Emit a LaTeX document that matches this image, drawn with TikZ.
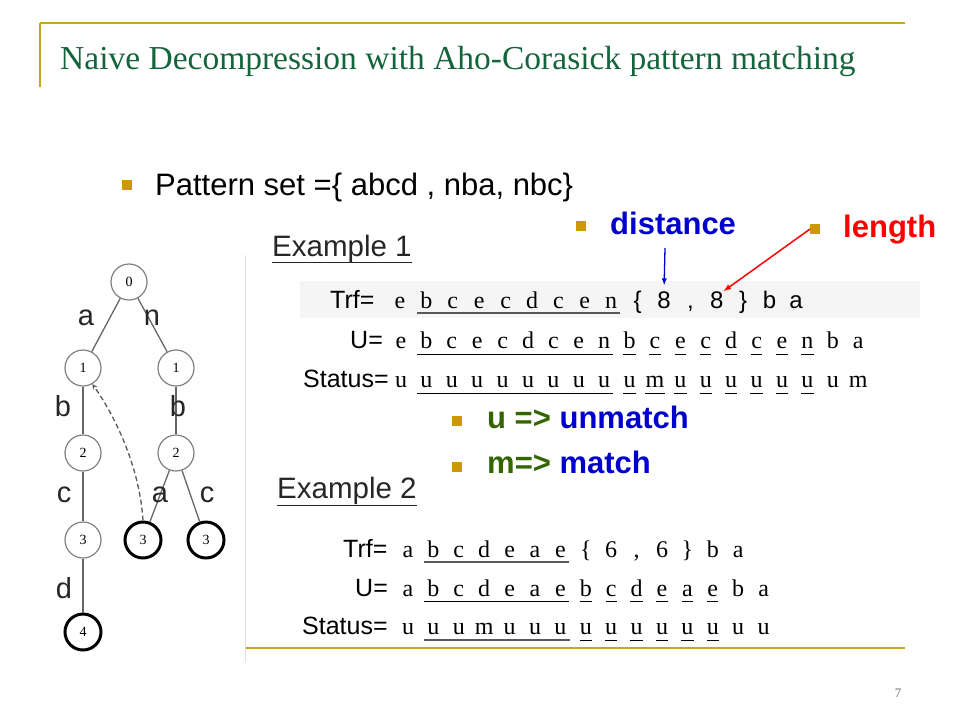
\documentclass[tikz,border=0pt]{standalone}
\usepackage{fontspec}
\setmainfont{Liberation Serif}
\setsansfont{Liberation Sans}
\usetikzlibrary{arrows,calc}

\tikzset{
  bul/.style={fill={rgb, 255:red, 204; green, 153; blue, 0 }, minimum size=9.5pt, inner sep=0pt},
  gold/.style={draw={rgb, 255:red, 201; green, 163; blue, 38 }},
  lt/.style={font=\fontsize{24}{24}\selectfont, inner sep=0pt, anchor=base},
  lts/.style={font=\sffamily\fontsize{24}{24}\selectfont, inner sep=0pt, anchor=base},
  rlab/.style={font=\sffamily\fontsize{25}{25}\selectfont, inner sep=0pt, anchor=base west},
  bigb/.style={font=\sffamily\bfseries\fontsize{31}{31}\selectfont, inner sep=0pt, anchor=base west},
  ul/.style={draw=black, line width=0.8pt},
  ulgray/.style={draw=black!65, line width=1.4pt},
  st/.style={circle, draw=black!50, line width=1.2pt, minimum size=36pt, inner sep=0pt, font=\fontsize{14}{14}\selectfont},
  acc/.style={st, draw=black, line width=3pt},
  edge/.style={draw=black!60, line width=1.3pt},
  elab/.style={font=\sffamily\fontsize{29}{29}\selectfont, text=black!85, inner sep=0pt}
}

\begin{document}
\begin{tikzpicture}[x=1pt,y=1pt,yscale=-1,xscale=1]
\useasboundingbox (0,0) rectangle (960,720);

%Straight Lines [frame]
\draw [gold, line width=1.6pt] (40,23) -- (905,23) ;
\draw [gold, line width=1.6pt] (40,23) -- (40,87) ;
\draw [gold, line width=2.6pt] (245,648) -- (905,648) ;
\draw [black!12] (245,255) -- (245,662) ;
%Shape: Rectangle [band behind Trf row]
\fill [black!4] (300,281) rectangle (920,318) ;

% Text Node
\node [anchor=base west, inner sep=0pt, font=\fontsize{33.5}{33.5}\selectfont, text={rgb, 255:red, 20; green, 100; blue, 60 }] (title) at (60,69) {Naive Decompression with Aho-Corasick pattern matching};
% Text Node
\node [bul] (bp) at (127,185) {};
\node [anchor=base west, inner sep=0pt, font=\sffamily\fontsize{31}{31}\selectfont] (pset) at (155,195) {Pattern set =\{ abcd , nba, nbc\}};
% Text Node
\node [bul] (bd) at (581,226) {};
\node [bigb, text={rgb, 255:red, 0; green, 0; blue, 204 }] (dist) at (610,234) {distance};
\node [bul] (bl) at (815,229) {};
\node [bigb, text={rgb, 255:red, 255; green, 0; blue, 0 }] (len) at (843,237) {length};
% Text Node
\node [bul] (bu) at (457,421) {};
\node [bigb, text={rgb, 255:red, 0; green, 0; blue, 204 }] (umat) at (487,428) {\textcolor[RGB]{51,102,0}{u =>} unmatch};
\node [bul] (bm) at (457,467) {};
\node [bigb, text={rgb, 255:red, 0; green, 0; blue, 204 }] (mmat) at (487,473) {\textcolor[RGB]{51,102,0}{m=>} match};

% Text Node [Example 1]
\node [anchor=base west, inner sep=0pt, font=\sffamily\fontsize{29.5}{29.5}\selectfont, text=black!85] (ex1) at (272,256) {Example 1};
\draw [black!85, line width=1pt] ($(ex1.base west)+(0,6)$) -- ($(ex1.base east)+(0,6)$) ;
\node [rlab] (trf1) at (330,308) {Trf=};
\node [rlab] (u1) at (350,348) {U=};
\node [rlab] (stat1) at (303,387) {Status=};
\foreach \c [count=\i from 0] in {e,b,c,e,c,d,c,e,n}
  \node [lt] (ta\i) at (400+26.4*\i,308) {\c};
\foreach \c [count=\i from 9] in {\{,8,{,},8,\},b,a}
  \node [lts] (ta\i) at (400+26.4*\i,308) {\c};
\foreach \c [count=\i from 0] in {e,b,c,e,c,d,c,e,n,b,c,e,c,d,c,e,n,b,a}
  \node [lt] (ua\i) at (401+25.4*\i,348) {\c};
\foreach \c [count=\i from 0] in {u,u,u,u,u,u,u,u,u,u,m,u,u,u,u,u,u,u,m}
  \node [lt] (sa\i) at (401+25.4*\i,387) {\c};
\draw [ulgray] ($(ta1.base west)+(-3,5)$) -- ($(ta8.base east)+(3,5)$) ;
\draw [ul] ($(ua1.base west)+(-3,6)$) -- ($(ua8.base east)+(3,6)$) ;
\draw [ul] ($(sa1.base west)+(-3,6)$) -- ($(sa8.base east)+(3,6)$) ;
\foreach \i in {9,...,16} {
  \draw [ul] ($(ua\i.base west)+(0,6)$) -- ($(ua\i.base east)+(0,6)$) ;
  \draw [ul] ($(sa\i.base west)+(0,6)$) -- ($(sa\i.base east)+(0,6)$) ;
}

%Straight Lines [arrows to the two 8s]
\coordinate (dtop) at (665,248);
\draw [-latex, line width=1.3pt, color={rgb, 255:red, 0; green, 0; blue, 204 }, shorten >=6pt] (dtop) -- (ta10.north) ;
\draw [-latex, line width=1.5pt, color={rgb, 255:red, 255; green, 0; blue, 0 }] (bl.west) -- (ta12.north east) ;

% Text Node [Example 2]
\node [anchor=base west, inner sep=0pt, font=\sffamily\fontsize{29.5}{29.5}\selectfont, text=black!85] (ex2) at (277,498) {Example 2};
\draw [black!85, line width=1pt] ($(ex2.base west)+(0,7)$) -- ($(ex2.base east)+(0,7)$) ;
\node [rlab] (trf2) at (343,557) {Trf=};
\node [rlab] (u2) at (355,596) {U=};
\node [rlab] (stat2) at (302,634) {Status=};
\foreach \c [count=\i from 0] in {a,b,c,d,e,a,e,\{,6,{,},6,\},b,a}
  \node [lt] (tb\i) at (408+25.4*\i,557) {\c};
\foreach \c [count=\i from 0] in {a,b,c,d,e,a,e,b,c,d,e,a,e,b,a}
  \node [lt] (ub\i) at (408+25.4*\i,596) {\c};
\foreach \c [count=\i from 0] in {u,u,u,m,u,u,u,u,u,u,u,u,u,u,u}
  \node [lt] (sb\i) at (408+25.4*\i,634) {\c};
\draw [ulgray] ($(tb1.base west)+(-3,5)$) -- ($(tb6.base east)+(3,5)$) ;
\draw [ul] ($(ub1.base west)+(-3,5)$) -- ($(ub6.base east)+(3,5)$) ;
\draw [ulgray] ($(sb1.base west)+(-3,6)$) -- ($(sb6.base east)+(3,6)$) ;
\foreach \i in {7,...,12} {
  \draw [ul] ($(ub\i.base west)+(0,5)$) -- ($(ub\i.base east)+(0,5)$) ;
  \draw [ul] ($(sb\i.base west)+(0,6)$) -- ($(sb\i.base east)+(0,6)$) ;
}

%Shape: Circle [trie states]
\node [st] (q0) at (129,282) {0};
\node [st] (qa1) at (83,368) {1};
\node [st] (qn1) at (176,368) {1};
\node [st] (qa2) at (83,453) {2};
\node [st] (qn2) at (176,453) {2};
\node [st] (qa3) at (83,540) {3};
\node [acc] (qnba) at (143,540) {3};
\node [acc] (qnbc) at (206,540) {3};
\node [acc] (qa4) at (83,632) {4};
%Straight Lines [trie edges]
\draw [edge] (q0) -- (qa1) ;
\draw [edge] (q0) -- (qn1) ;
\draw [edge] (qa1) -- (qa2) ;
\draw [edge] (qn1) -- (qn2) ;
\draw [edge] (qa2) -- (qa3) ;
\draw [edge] (qa3) -- (qa4) ;
\draw [edge] (qn2) -- (qnba) ;
\draw [edge] (qn2) -- (qnbc) ;
%Curve Lines [failure link]
\draw [dash pattern={on 5pt off 3pt}, -stealth, black!65, line width=1.3pt] (qnba.north) .. controls +(-3,-50) and +(25,35) .. (qa1.-60) ;
% Text Node [edge labels]
\node [elab] (la) at (86,318) {a};
\node [elab] (ln) at (152,318) {n};
\node [elab] (lb1) at (63,406) {b};
\node [elab] (lb2) at (178,406) {b};
\node [elab] (lc1) at (64,495) {c};
\node [elab] (la2) at (160,495) {a};
\node [elab] (lc2) at (207,495) {c};
\node [elab] (ld) at (64,588) {d};

% Text Node
\node [anchor=base, inner sep=0pt, font=\fontsize{13}{13}\selectfont, text=black!55] (pg) at (898,697) {7};

\end{tikzpicture}
\end{document}
